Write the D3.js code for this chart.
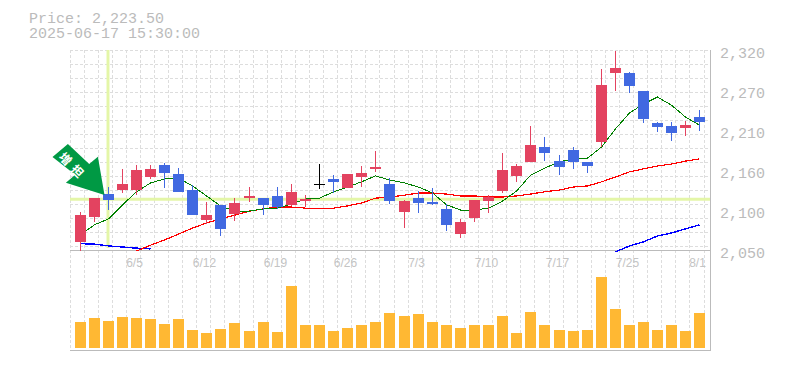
<!DOCTYPE html>
<html lang="ja">
  <head>
    <meta charset="UTF-8" />
    <title>Price chart</title>
    <script src="https://d3js.org/d3.v7.min.js"></script>
    <style>
      body {
        margin: 0;
        background: #fff;
      }
      svg {
        display: block;
      }
      .mono {
        font-family: "Liberation Mono", monospace;
        font-size: 15px;
        fill: #bbb;
      }
      .date {
        font-family: "Liberation Sans", sans-serif;
        font-size: 12px;
        fill: #c4c4c4;
      }
      .grid {
        stroke: #ddd;
        stroke-dasharray: 3 2;
        shape-rendering: crispEdges;
      }
      .frame {
        stroke: #bbb;
        shape-rendering: crispEdges;
      }
      .ma {
        fill: none;
        shape-rendering: crispEdges;
      }
    </style>
  </head>
  <body>
    <svg width="785" height="370" id="chart"></svg>

    <script>
      const headerLines = ["Price: 2,223.50", "2025-06-17 15:30:00"];

      // one entry per trading day
      const open = [
        2060, 2094.5, 2125.5, 2131, 2130.5, 2148.5, 2165, 2152.5, 2131, 2090.5,
        2111, 2098.5, 2120, 2120, 2123, 2111, 2116, 2139, 2146, 2134, 2148.5,
        2159.5, 2139, 2101.5, 2120, 2115, 2105.5, 2071.5, 2093, 2116, 2129.5,
        2150, 2169, 2189, 2170, 2185, 2169, 2196, 2289, 2289, 2264.5, 2221.5,
        2217.5, 2215, 2229.5,
      ];
      const high = [
        2101.5, 2120, 2135.5, 2159.5, 2165, 2165, 2167.5, 2160.5, 2138, 2115,
        2111, 2120, 2135, 2120, 2135, 2139, 2124, 2166, 2151, 2152.5, 2163.5,
        2183.5, 2147, 2117.5, 2129.5, 2134, 2112, 2092, 2117.5, 2124, 2181,
        2166, 2217.5, 2202.5, 2178, 2189, 2169, 2294.5, 2318.5, 2290.5, 2264.5,
        2223, 2223, 2224, 2239,
      ];
      const low = [
        2049, 2088, 2104, 2127.5, 2124, 2146, 2134, 2128, 2097, 2085, 2069,
        2089, 2115, 2097, 2105.5, 2109.5, 2108, 2132.5, 2127, 2134, 2135,
        2155.5, 2112, 2079.5, 2100, 2110.5, 2075.5, 2066, 2088, 2100, 2127,
        2142, 2169, 2170, 2151, 2159.5, 2154, 2189, 2264.5, 2262, 2221.5,
        2209.5, 2197, 2204, 2210.5,
      ];
      const close = [
        2097, 2120, 2117.5, 2139, 2158, 2159.5, 2154, 2128, 2097, 2097, 2078.5,
        2113.5, 2123, 2111, 2108, 2128.5, 2119, 2139, 2142, 2152.5, 2154, 2162,
        2116, 2116, 2113.5, 2112, 2084, 2088, 2117.5, 2121.5, 2158, 2163.5,
        2192, 2181, 2162, 2169, 2163.5, 2273, 2296, 2271.5, 2227, 2216, 2208,
        2219, 2223,
      ];
      const volume = [
        26, 30, 27, 31, 30, 29, 24, 29, 18, 15, 19, 25, 17, 26, 16, 62, 23, 23,
        17, 20, 23, 26, 35, 32, 34, 26, 23, 20, 23, 23, 32, 15, 36, 23, 18, 17,
        18, 71, 39, 23, 26, 18, 23, 17, 35,
      ];
      const maShort = [
        2070.5, 2084, 2092, 2111, 2128.5, 2140.5, 2146, 2147, 2136.5, 2123,
        2109.5, 2102.5, 2102.5, 2105.5, 2106.5, 2112, 2119, 2120, 2128.5, 2135,
        2142, 2150, 2144.5, 2140.5, 2135, 2127, 2111, 2104, 2104, 2106.5, 2116,
        2129.5, 2151, 2160.5, 2169, 2173, 2174, 2189, 2213.5, 2235, 2247,
        2256.5, 2245.5, 2229.5, 2218.5,
      ];
      const maMid = [
        null, null, null, null, 2048.5, 2056.5, 2063.5, 2071.5, 2079.5, 2086.5,
        2092, 2097, 2102.5, 2105.5, 2108, 2108, 2106.5, 2106.5, 2106.5, 2109.5,
        2113.5, 2120, 2121.5, 2124, 2127, 2127, 2125.5, 2123, 2123, 2121.5,
        2121.5, 2123, 2125.5, 2128.5, 2131, 2135, 2136.5, 2142, 2148.5, 2155.5,
        2159.5, 2163.5, 2166, 2170, 2173,
      ];
      const maLong = [
        2058.5, 2058, 2055.5, 2054, 2052.5, 2051.5, null, null, null, null,
        null, null, null, null, null, null, null, null, null, null, null, null,
        null, null, null, null, null, null, null, null, null, null, null, null,
        null, null, null, null, 2047.5, 2055.5, 2061, 2069, 2073, 2078.5, 2084,
      ];

      const dateLabels = [
        [4, "6/5"],
        [9, "6/12"],
        [14, "6/19"],
        [19, "6/26"],
        [24, "7/3"],
        [29, "7/10"],
        [34, "7/17"],
        [39, "7/25"],
        [44, "8/1"],
      ];
      const priceTicks = [2050, 2104, 2158, 2212, 2266, 2320];
      const markIndex = 2;
      const markPrice = 2118.5;
      const markLabel = "増担";

      const upColor = "#e34360";
      const downColor = "#4169e1";
      const flatColor = "#000";
      const volumeColor = "#ffb833";
      const markColor = "#e4f6a8";
      const arrowColor = "#009944";

      const left = 70;
      const right = 710;
      const priceTop = 50;
      const priceBottom = 250;
      const volumeBottom = 350;
      const candleWidth = 11;

      const svg = d3.select("#chart");
      const days = d3.range(open.length);

      // bands are 14.09 wide, the pixels stay on whole numbers
      const xBand = d3.scaleBand().domain(days).range([left, 704.09]);
      const xLeft = (i) => Math.floor(xBand(i)) + 5;
      const xMid = (i) => xLeft(i) + candleWidth / 2;

      const y = d3
        .scaleLinear()
        .domain([2050, 2320])
        .range([priceBottom, priceTop]);
      const yVolume = d3.scaleLinear().domain([0, 80]).range([348, 268]);

      // Header text
      svg
        .selectAll(".header")
        .data(headerLines)
        .join("text")
        .attr("class", "header mono")
        .attr("x", 29)
        .attr("y", (d, i) => 23 + i * 15)
        .text((d) => d);

      // Grid
      svg
        .append("g")
        .selectAll("line")
        .data(days.concat(45))
        .join("line")
        .attr("class", "grid")
        .attr("x1", (d) => Math.floor(left + d * xBand.step()) + 0.5)
        .attr("x2", (d) => Math.floor(left + d * xBand.step()) + 0.5)
        .attr("y1", priceTop)
        .attr("y2", volumeBottom);

      svg
        .append("g")
        .selectAll("line")
        .data(d3.range(priceTop, priceBottom, 14))
        .join("line")
        .attr("class", "grid")
        .attr("x1", left)
        .attr("x2", right)
        .attr("y1", (d) => d + 0.5)
        .attr("y2", (d) => d + 0.5);

      // Highlight cross
      svg
        .append("line")
        .attr("x1", left)
        .attr("x2", right)
        .attr("y1", y(markPrice))
        .attr("y2", y(markPrice))
        .attr("stroke", markColor)
        .attr("stroke-width", 3);

      svg
        .append("line")
        .attr("x1", xMid(markIndex) - 0.5)
        .attr("x2", xMid(markIndex) - 0.5)
        .attr("y1", priceTop)
        .attr("y2", priceBottom - 2)
        .attr("stroke", markColor)
        .attr("stroke-width", 3);

      // Frame
      svg
        .append("path")
        .attr("class", "frame")
        .attr("fill", "none")
        .attr(
          "d",
          `M${left},${priceBottom + 0.5}H${right + 0.5}M${left},${
            volumeBottom + 0.5
          }H${right + 0.5}M${right + 0.5},${priceTop}V${volumeBottom + 1}`
        )
        .attr("stroke-width", 1);

      // Moving averages, behind the candles
      const lineGen = d3
        .line()
        .defined((d) => d !== null)
        .x((d, i) => xMid(i))
        .y((d) => y(d));

      [
        [maLong, "#0000ff", 1.4],
        [maMid, "#ff0000", 1.2],
        [maShort, "#008000", 1],
      ].forEach(([values, stroke, width]) => {
        svg
          .append("path")
          .attr("class", "ma")
          .attr("d", lineGen(values))
          .attr("stroke", stroke)
          .attr("stroke-width", width);
      });

      const candleColor = (i) =>
        close[i] > open[i]
          ? upColor
          : close[i] < open[i]
          ? downColor
          : flatColor;

      // Candles
      const candles = svg.append("g").attr("shape-rendering", "crispEdges");

      candles
        .selectAll("line")
        .data(days)
        .join("line")
        .attr("x1", xMid)
        .attr("x2", xMid)
        .attr("y1", (i) => y(high[i]))
        .attr("y2", (i) => y(low[i]))
        .attr("stroke", candleColor);

      candles
        .selectAll("rect")
        .data(days)
        .join("rect")
        .attr("x", xLeft)
        .attr("width", candleWidth)
        .attr("y", (i) => Math.round(y(Math.max(open[i], close[i]))))
        .attr("height", (i) =>
          Math.max(1, Math.round(Math.abs(y(open[i]) - y(close[i]))))
        )
        .attr("fill", candleColor);

      // Volume bars
      svg
        .append("g")
        .attr("shape-rendering", "crispEdges")
        .selectAll("rect")
        .data(volume)
        .join("rect")
        .attr("x", (d, i) => xLeft(i))
        .attr("width", candleWidth)
        .attr("y", (d) => yVolume(d))
        .attr("height", (d) => yVolume(0) - yVolume(d))
        .attr("fill", volumeColor);

      // Axis labels
      svg
        .selectAll(".date")
        .data(dateLabels)
        .join("text")
        .attr("class", "date")
        .attr("x", (d) => xMid(d[0]) - 2)
        .attr("y", 267)
        .attr("text-anchor", "middle")
        .text((d) => d[1]);

      const priceFormat = d3.format(",");
      svg
        .selectAll(".price")
        .data(priceTicks)
        .join("text")
        .attr("class", "price mono")
        .attr("x", 720)
        .attr("y", (d) => y(d) + 8)
        .text((d) => priceFormat(Math.round(d / 10) * 10));

      // Arrow pointing at the marked candle, shape is relative to its tip
      const arrow = svg
        .append("g")
        .attr(
          "transform",
          `translate(${xMid(markIndex) - 4},${y(close[markIndex]) - 5})`
        );

      arrow
        .append("path")
        .attr("d", "M0,0L-38.6,-12.3L-29.3,-20.3L-52,-38L-36.6,-51L-15.3,-31L-6.6,-38.3Z")
        .attr("fill", arrowColor);

      arrow
        .append("text")
        .attr("transform", "translate(-30.5,-29) rotate(45)")
        .attr("text-anchor", "middle")
        .attr("dominant-baseline", "central")
        .attr("font-family", "'Noto Sans CJK JP', sans-serif")
        .attr("font-weight", "bold")
        .attr("font-size", 12)
        .attr("letter-spacing", 5)
        .attr("fill", "#fff")
        .text(markLabel);
    </script>
  </body>
</html>
